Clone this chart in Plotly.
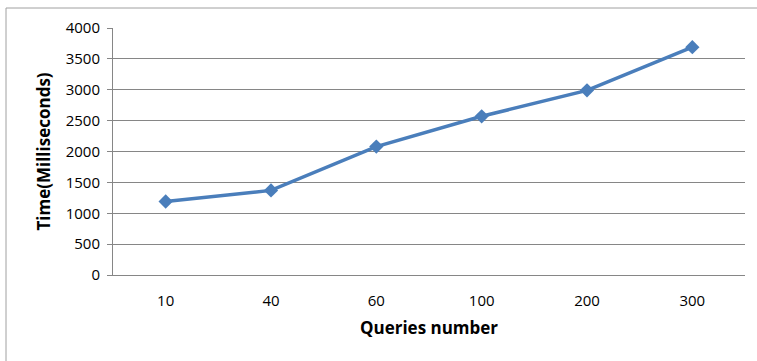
import plotly.graph_objects as go

categories = ["10", "40", "60", "100", "200", "300"]
times_ms = [1190, 1370, 2080, 2570, 2990, 3690]
y_ticks = [0, 500, 1000, 1500, 2000, 2500, 3000, 3500, 4000]

W, H = 757, 361
L, R, T, B = 113, 12, 28, 86
pw = W - L - R
ph = H - T - B

fig = go.Figure()
fig.add_trace(go.Scatter(
    x=categories, y=times_ms, mode="lines+markers",
    line=dict(color="#4A7EBB", width=3.5),
    marker=dict(symbol="diamond", size=11, color="#4A7EBB"),
    showlegend=False,
))

font = "Open Sans, Liberation Sans, sans-serif"
fig.update_layout(
    width=W, height=H,
    margin=dict(l=L, r=R, t=T, b=B),
    paper_bgcolor="white", plot_bgcolor="white",
    font=dict(family=font, size=14, color="#000000"),
    xaxis=dict(
        type="category", range=[-0.5, 5.5],
        showgrid=False, showline=True, linecolor="#868686", linewidth=1,
        ticks="", tickfont=dict(size=15), ticklabelstandoff=12,
        title=dict(text="<b>Queries number</b>", font=dict(size=17), standoff=13),
    ),
    yaxis=dict(
        range=[0, 4000], tickvals=y_ticks,
        showgrid=True, gridcolor="#868686", gridwidth=1,
        showline=True, linecolor="#868686", linewidth=1,
        ticks="outside", ticklen=5, tickcolor="#868686",
        tickfont=dict(size=15), zeroline=False, ticklabelstandoff=4,
        title=dict(text="<b>Time(Milliseconds)</b>", font=dict(size=17), standoff=10),
    ),
)

# outer chart frame
fig.add_shape(type="line", xref="paper", yref="paper",
              x0=(6 - L) / pw, x1=(W - L) / pw, y0=(H - B - 8) / ph, y1=(H - B - 8) / ph,
              line=dict(color="#A0A0A0", width=1))
fig.add_shape(type="line", xref="paper", yref="paper",
              x0=(6 - L) / pw, x1=(6 - L) / pw, y0=(H - B - 8) / ph, y1=(H - B - H) / ph,
              line=dict(color="#A0A0A0", width=1))

fig.write_html("out.html", config={"displayModeBar": False},
               post_script="document.body.style.margin='0';")
